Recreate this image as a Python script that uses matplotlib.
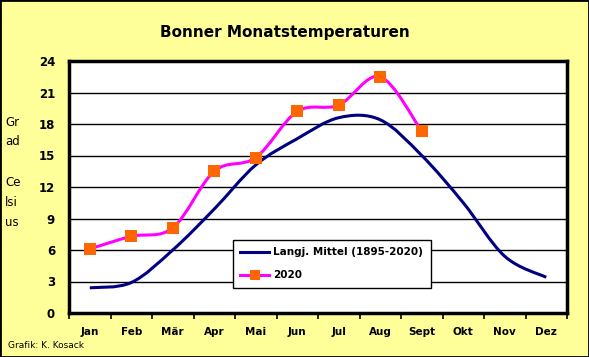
import numpy as np
import matplotlib
matplotlib.use("Agg")
import matplotlib.pyplot as plt
from matplotlib.path import Path
from matplotlib.patches import PathPatch, Rectangle
from matplotlib.lines import Line2D

months = ['Jan', 'Feb', 'Mär', 'Apr', 'Mai', 'Jun', 'Jul', 'Aug', 'Sept', 'Okt', 'Nov', 'Dez']
mittel = [2.4, 2.9, 6.0, 9.9, 14.1, 16.6, 18.6, 18.4, 15.0, 10.5, 5.4, 3.4]
temp_2020 = [6.1, 7.3, 8.1, 13.5, 14.8, 19.2, 19.8, 22.5, 17.3]
y_ticks = [0, 3, 6, 9, 12, 15, 18, 21, 24]

bg = '#FFFF99'
navy = '#000080'
magenta = '#FF00FF'
orange = '#FF6600'


def smooth_path(xs, ys):
    # excel-like smoothed line as bezier curves through the points
    pts = np.column_stack([xs, ys])
    verts = [pts[0]]
    codes = [Path.MOVETO]
    n = len(pts)
    for i in range(n - 1):
        p0 = pts[max(i - 1, 0)]
        p1 = pts[i]
        p2 = pts[i + 1]
        p3 = pts[min(i + 2, n - 1)]
        c1 = p1 + (p2 - p0) / 6.0
        c2 = p2 - (p3 - p1) / 6.0
        verts += [c1, c2, p2]
        codes += [Path.CURVE4] * 3
    return Path(verts, codes)


fig = plt.figure(figsize=(5.89, 3.57), dpi=100, facecolor=bg)
fig.patches.append(Rectangle((0, 0), 1, 1, transform=fig.transFigure,
                             fill=False, edgecolor='black', linewidth=2))

ax = fig.add_axes([69 / 589, 1 - 313 / 357, 498 / 589, 252 / 357])
ax.set_facecolor('white')

x_centers = np.arange(len(months)) + 0.5

for y in y_ticks[1:-1]:
    ax.axhline(y, color='black', linewidth=1.0, zorder=1)

ax.add_patch(PathPatch(smooth_path(x_centers, mittel), fill=False,
                       edgecolor=navy, linewidth=2.2, zorder=3))
x20 = x_centers[:len(temp_2020)]
ax.add_patch(PathPatch(smooth_path(x20, temp_2020), fill=False,
                       edgecolor=magenta, linewidth=2.2, zorder=4))
ax.plot(x20, temp_2020, 's', color=orange, markersize=8.5,
        markeredgewidth=0, zorder=5)

ax.set_xlim(0, 12)
ax.set_ylim(0, 24)
ax.set_yticks(y_ticks)
ax.set_yticklabels([str(v) for v in y_ticks], fontsize=8.5, fontweight='bold')
ax.tick_params(axis='y', length=0, pad=10)

ax.set_xticks(np.arange(13))
ax.set_xticklabels([])
ax.tick_params(axis='x', which='major', direction='out', length=4, width=1.2)
ax.set_xticks(x_centers, minor=True)
ax.set_xticklabels(months, minor=True, fontsize=7.5, fontweight='bold')
ax.tick_params(axis='x', which='minor', length=0, pad=10)

for s in ax.spines.values():
    s.set_linewidth(2.5)
    s.set_color('black')

handles = [Line2D([], [], color=navy, linewidth=2.2),
           Line2D([], [], color=magenta, linewidth=2.2, marker='s',
                  markerfacecolor=orange, markeredgewidth=0, markersize=7)]
leg = ax.legend(handles, ['Langj. Mittel (1895-2020)', '2020'],
                loc='upper left', bbox_to_anchor=(0.329, 0.29),
                prop={'weight': 'bold', 'size': 7.5}, frameon=True,
                fancybox=False, handlelength=2.8, borderpad=0.7,
                labelspacing=1.25, handletextpad=0.4, borderaxespad=0)
leg.get_frame().set_edgecolor('black')
leg.get_frame().set_linewidth(1.0)
leg.get_frame().set_alpha(1)
leg.set_zorder(10)

fig.text(285 / 589, 1 - 32 / 357, 'Bonner Monatstemperaturen', ha='center',
         va='center', fontsize=11, fontweight='bold')

for txt, ypix in [('Gr', 123), ('ad', 142), ('Ce', 183), ('lsi', 203), ('us', 222)]:
    fig.text(5 / 589, 1 - ypix / 357, txt, ha='left', va='center', fontsize=8.5)

fig.text(8 / 589, 1 - 346 / 357, 'Grafik: K. Kosack', ha='left', va='center',
         fontsize=6.5)

fig.savefig('out.png', dpi=100, facecolor=bg)
